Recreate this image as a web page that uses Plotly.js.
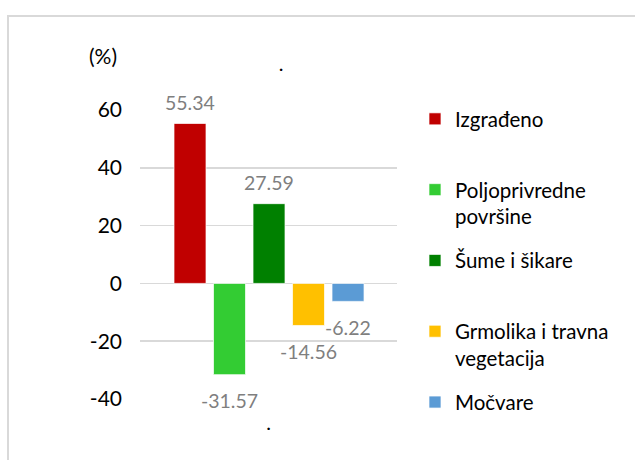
<!DOCTYPE html>
<html>
<head>
<meta charset="utf-8">
<script src="https://cdn.plot.ly/plotly-3.0.1.min.js"></script>
<style>
  html, body { margin: 0; padding: 0; background: #fff; }
  #wrap { position: relative; width: 635px; height: 460px; }
  #chart { width: 635px; height: 460px; }
  #frame { position: absolute; left: 7px; top: 15px; right: 0; bottom: 0;
           border-top: 2.5px solid #d9d9d9; border-left: 2.5px solid #d9d9d9;
           pointer-events: none; }
</style>
</head>
<body>
<div id="wrap">
  <div id="chart"></div>
  <div id="frame"></div>
</div>
<script>
// ---- data ----
var categories = ['Izgrađeno', 'Poljoprivredne<br>površine', 'Šume i šikare', 'Grmolika i travna<br>vegetacija', 'Močvare'];
var values = [55.34, -31.57, 27.59, -14.56, -6.22];
var colors = ['#c00000', '#33cc33', '#008000', '#ffc000', '#5b9bd5'];
var yTicks = [-40, -20, 0, 20, 40, 60];
var yUnit = '(%)';

var FONT = 'Lato, "Liberation Sans", sans-serif';

// every legend entry occupies a two-line slot, as in the original legend
function legendName(name) {
  return name.indexOf('<br>') >= 0 ? name : name + '<br>\u00a0';
}

var traces = categories.map(function (name, i) {
  return {
    type: 'bar',
    name: legendName(name),
    x: [i],
    y: [values[i]],
    width: 0.81,
    marker: { color: colors[i], line: { color: '#ffffff', width: 0.7 } },
    legendgroup: 'g' + i,
    hoverinfo: 'y'
  };
});

var annotations = values.map(function (v, i) {
  return {
    x: i, y: v, xref: 'x', yref: 'y',
    text: v.toFixed(2),
    showarrow: false,
    xanchor: 'center', yanchor: 'middle',
    yshift: v >= 0 ? 21 : -26,
    font: { family: FONT, size: 19.5, color: '#7f7f7f' }
  };
});
annotations.push({
  xref: 'paper', yref: 'paper', x: -0.144, y: 1.19,
  xanchor: 'center', yanchor: 'middle',
  text: yUnit, showarrow: false,
  font: { family: FONT, size: 21, color: '#000' }
});

var layout = {
  width: 635, height: 460,
  margin: { l: 140, r: 238, t: 110, b: 61 },
  paper_bgcolor: '#ffffff',
  plot_bgcolor: '#ffffff',
  barmode: 'overlay',
  font: { family: FONT, size: 18, color: '#000' },
  title: { text: '.', xref: 'paper', x: 0.549, xanchor: 'center',
           yref: 'container', y: 0.86, yanchor: 'middle',
           font: { family: FONT, size: 20, color: '#000' } },
  xaxis: {
    range: [-1.266, 5.24],
    showticklabels: false, showgrid: false, zeroline: false, showline: false,
    ticks: '', fixedrange: true,
    title: { text: '.', standoff: 16, font: { family: FONT, size: 20, color: '#000' } }
  },
  yaxis: {
    range: [-40, 60],
    tickvals: yTicks,
    ticktext: yTicks.map(String),
    ticks: '',
    ticklabelstandoff: 17,
    tickfont: { family: FONT, size: 21, color: '#000' },
    showgrid: true, gridcolor: '#d9d9d9', gridwidth: 1.5,
    zeroline: true, zerolinecolor: '#d9d9d9', zerolinewidth: 1.5,
    showline: false, fixedrange: true
  },
  showlegend: true,
  legend: {
    x: 1.07, xanchor: 'left', y: 1.038, yanchor: 'top',
    traceorder: 'grouped', tracegroupgap: 14.5, valign: 'top',
    maxheight: 420,
    font: { family: FONT, size: 20.5, color: '#000' },
    bgcolor: 'rgba(0,0,0,0)'
  },
  annotations: annotations
};

Plotly.newPlot('chart', traces, layout, { displayModeBar: false, staticPlot: true });
</script>
</body>
</html>
